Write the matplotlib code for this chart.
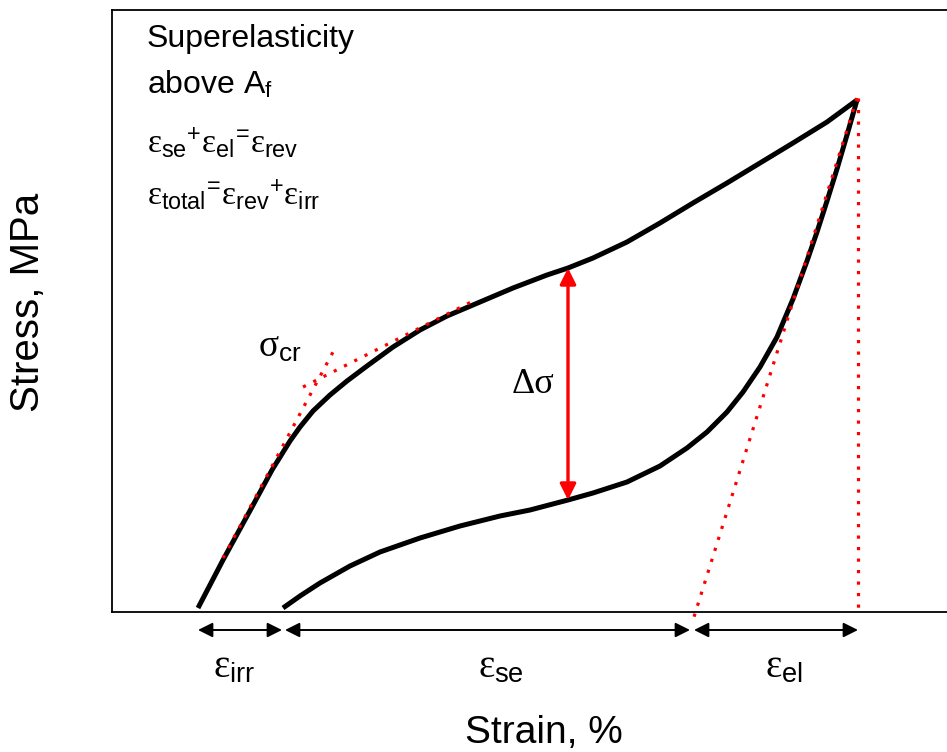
import matplotlib
matplotlib.use("Agg")
import matplotlib.pyplot as plt

plt.rcParams['font.family'] = ['Liberation Sans', 'DejaVu Sans']
plt.rcParams['mathtext.fontset'] = 'custom'
plt.rcParams['mathtext.rm'] = 'Liberation Sans'
plt.rcParams['mathtext.it'] = 'Liberation Serif'
plt.rcParams['mathtext.sf'] = 'Liberation Sans'

# loading branch (strain %, stress MPa - arbitrary units, no ticks in the sketch)
load_strain = [0.86, 1.11, 1.40, 1.60, 1.78, 1.88, 2.01, 2.18, 2.35, 2.55, 2.81, 3.08, 3.35,
               3.68, 4.01, 4.35, 4.56, 4.81, 5.15, 5.48, 5.81, 6.15, 6.48, 6.81, 7.15, 7.45]
load_stress = [4, 52, 105, 142, 171, 185, 201, 217, 231, 246, 265, 282, 296,
               310, 324, 337, 344, 354, 370, 389, 409, 429, 449, 469, 490, 512]

# unloading branch
unload_strain = [7.45, 7.35, 7.25, 7.15, 7.05, 6.95, 6.81, 6.65, 6.48, 6.31, 6.15, 5.95, 5.75,
                 5.48, 5.15, 4.81, 4.56, 4.18, 3.88, 3.48, 3.08, 2.68, 2.38, 2.08, 1.88, 1.71]
unload_stress = [512, 477, 443, 411, 380, 351, 313, 275, 245, 220, 200, 180, 164,
                 146, 130, 119, 112, 102, 96, 86, 74, 60, 46, 29, 16, 4]

# construction lines (red dotted)
elastic_x, elastic_y = [1.11, 2.21], [54, 260]
plateau_x, plateau_y = [1.91, 3.63], [225, 312]
unl_el_x, unl_el_y = [7.45, 5.81], [514, -8]
vert_x, vert_y = [7.46, 7.46], [514, 0]

# delta sigma at this strain
ds_strain = 4.56
ds_top, ds_bot = 344, 112

# strain components along the axis
eps_irr = (0.86, 1.70)
eps_se = (1.73, 5.78)
eps_el = (5.82, 7.46)

fig = plt.figure(figsize=(9.47, 7.52), dpi=100)
ax = fig.add_axes([112/947, 140/752, 835/947, 602/752])

curve = dict(color='black', lw=3.6, solid_capstyle='butt', solid_joinstyle='round')
ax.plot(load_strain, load_stress, **curve)
ax.plot(unload_strain, unload_stress, **curve)

dot = dict(color='red', lw=2.3, linestyle=(0, (1, 2.6)), clip_on=False)
ax.plot(elastic_x, elastic_y, **dot)
ax.plot(plateau_x, plateau_y, **dot)
ax.plot(unl_el_x, unl_el_y, **dot)
ax.plot(vert_x, vert_y, **dot)

ax.annotate('', xy=(ds_strain, ds_top), xytext=(ds_strain, ds_bot),
            arrowprops=dict(arrowstyle='<|-|>', color='red', lw=2.4,
                            mutation_scale=24, shrinkA=0, shrinkB=0))

for a, b in [eps_irr, eps_se, eps_el]:
    ax.annotate('', xy=(a, -18), xytext=(b, -18), annotation_clip=False,
                arrowprops=dict(arrowstyle='<|-|>', color='black', lw=1.4,
                                mutation_scale=22, shrinkA=0, shrinkB=0))

ax.text(0.35, 565, 'Superelasticity', fontsize=23, va='baseline')
ax.text(0.35, 518, r'above A$_\mathrm{f}$', fontsize=23, va='baseline')
ax.text(0.35, 460, r'$\varepsilon_\mathrm{se}{}^{+}\varepsilon_\mathrm{el}{}^{\!=\!}\varepsilon_\mathrm{rev}$',
        fontsize=24, va='baseline')
ax.text(0.35, 407, r'$\varepsilon_\mathrm{total}{}^{\!=\!}\varepsilon_\mathrm{rev}{}^{+}\varepsilon_\mathrm{irr}$',
        fontsize=24, va='baseline')
ax.text(1.46, 255, r'$\sigma_\mathrm{cr}$', fontsize=27, va='baseline')
ax.text(4.0, 219, 'Δσ', fontsize=26, family='Liberation Serif', va='baseline')

ax.text(1.01, -65, r'$\varepsilon_\mathrm{irr}$', fontsize=28, va='baseline', clip_on=False)
ax.text(3.66, -65, r'$\varepsilon_\mathrm{se}$', fontsize=28, va='baseline', clip_on=False)
ax.text(6.53, -65, r'$\varepsilon_\mathrm{el}$', fontsize=28, va='baseline', clip_on=False)

ax.set_xlim(0, 8.35)
ax.set_ylim(0, 602)
ax.set_xticks([])
ax.set_yticks([])
ax.spines['right'].set_visible(False)
for s in ['left', 'top', 'bottom']:
    ax.spines[s].set_linewidth(1.3)

ax.set_xlabel('Strain, %', fontsize=28, va='baseline')
ax.xaxis.set_label_coords(0.517, -0.2176)
ax.set_ylabel('Stress, MPa', fontsize=29, va='center')
ax.yaxis.set_label_coords(-0.1006, 0.515)

fig.savefig('out.png', dpi=100)
